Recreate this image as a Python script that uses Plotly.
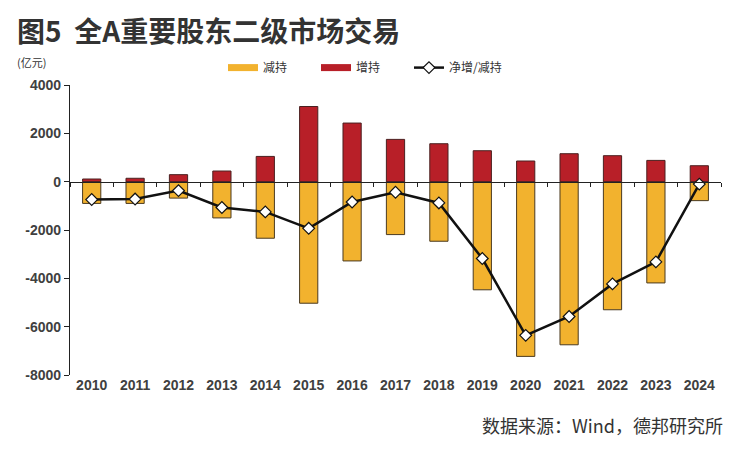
import plotly.graph_objects as go

years = [str(y) for y in range(2010, 2025)]
reduce_vals = [-900, -900, -680, -1500, -2340, -5030, -3280, -2190, -2465, -4475, -7230, -6750, -5300, -4190, -785]
increase_vals = [110, 140, 290, 440, 1045, 3110, 2425, 1750, 1570, 1280, 855, 1157, 1075, 880, 660]
net_vals = [-740, -720, -370, -1070, -1250, -1930, -840, -440, -880, -3180, -6360, -5580, -4230, -3320, -100]
y_ticks = [4000, 2000, 0, -2000, -4000, -6000, -8000]

YELLOW = "#F2B22E"
RED = "#B81F28"

fig = go.Figure()
fig.add_trace(go.Bar(x=years, y=reduce_vals, name="减持", showlegend=False,
                     marker=dict(color=YELLOW, line=dict(color="#4a3a20", width=1)),
                     width=0.42))
fig.add_trace(go.Bar(x=years, y=increase_vals, name="增持", showlegend=False,
                     marker=dict(color=RED, line=dict(color="#4a2020", width=1)),
                     width=0.42))
# legend-only entries with wide rectangular swatches
fig.add_trace(go.Scatter(x=[years[0]], y=[None], name="减持", mode="lines",
                         line=dict(color=YELLOW, width=7), hoverinfo="skip"))
fig.add_trace(go.Scatter(x=[years[0]], y=[None], name="增持", mode="lines",
                         line=dict(color=RED, width=7), hoverinfo="skip"))
fig.add_trace(go.Scatter(x=years, y=net_vals, name="净增/减持", mode="lines+markers",
                         line=dict(color="#111111", width=2.5),
                         marker=dict(symbol="diamond", size=9, color="white",
                                     line=dict(color="#111111", width=1.2))))

fig.update_layout(
    width=737, height=451,
    margin=dict(l=70, r=16, t=85, b=76, autoexpand=False),
    paper_bgcolor="white", plot_bgcolor="white",
    barmode="relative",
    font=dict(family="Liberation Sans, Arial, sans-serif", color="#333333"),
    showlegend=True,
    legend=dict(orientation="h", x=0.235, y=1.06, xanchor="left", yanchor="middle",
                font=dict(family="Noto Sans CJK SC", size=12, color="#333333"),
                entrywidth=48, entrywidthmode="pixels",
                bgcolor="rgba(0,0,0,0)", tracegroupgap=0),
    xaxis=dict(type="category", range=[-0.5, 14.5], showline=False, ticks="", showgrid=False,
               tickfont=dict(size=14, color="#404040", family="Liberation Sans"),
               tickprefix="<b>", ticksuffix="</b>",
               zeroline=False),
    xaxis2=dict(type="category", matches="x", overlaying="x", anchor="free",
                position=8000/12000, showline=True, linecolor="#222222", linewidth=1.2,
                ticks="outside", ticklen=4, tickcolor="#222222", tickson="boundaries",
                showticklabels=False, showgrid=False, side="bottom"),
    yaxis=dict(range=[-8000, 4000], tickvals=y_ticks, ticktext=[f"<b>{v}</b>" for v in y_ticks],
               showline=True, linecolor="#222222", linewidth=1.2,
               ticks="outside", ticklen=5, tickcolor="#222222",
               showgrid=False, zeroline=False,
               tickfont=dict(size=14, color="#404040", family="Liberation Sans")),
)
# invisible trace to activate xaxis2
fig.add_trace(go.Scatter(x=years, y=[None]*len(years), xaxis="x2", showlegend=False,
                         hoverinfo="skip", mode="lines"))

fig.add_annotation(text="<b>图5  全A重要股东二级市场交易</b>", xref="paper", yref="paper",
                   x=-0.085, y=1.0, xanchor="left", yanchor="middle", yshift=55,
                   showarrow=False,
                   font=dict(family="Noto Sans CJK SC", size=28, color="#333333"))
fig.add_annotation(text="(亿元)", xref="paper", yref="paper",
                   x=-0.085, y=1.0, xanchor="left", yanchor="middle", yshift=23,
                   showarrow=False,
                   font=dict(family="Noto Sans CJK SC", size=11, color="#333333"))
fig.add_annotation(text="数据来源：Wind，德邦研究所", xref="paper", yref="paper",
                   x=1.006, y=0, xanchor="right", yanchor="middle", yshift=-50,
                   showarrow=False,
                   font=dict(family="Noto Sans CJK SC", size=18, color="#333333"))

fig.write_html("out.html", config={"displayModeBar": False},
               post_script="document.body.style.margin='0';")
